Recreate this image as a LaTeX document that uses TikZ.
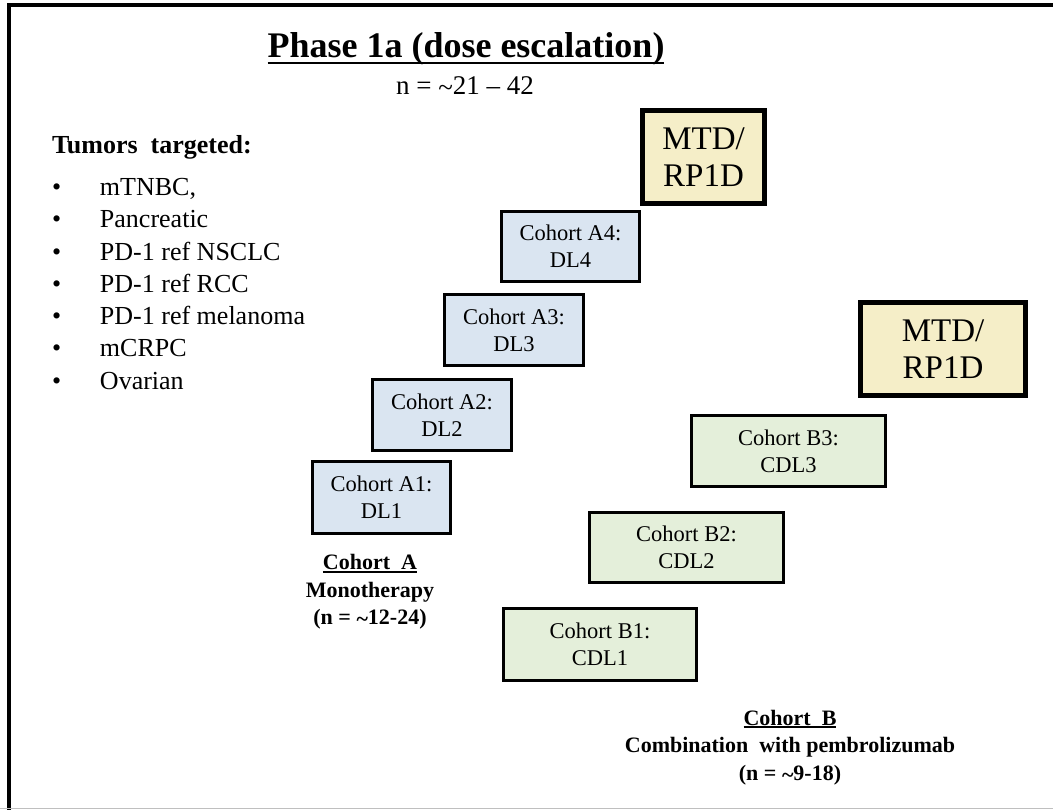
\documentclass[tikz,border=0pt]{standalone}
\usepackage{fontspec}
\setmainfont{Liberation Serif}
\definecolor{boxblue}{HTML}{DAE5F1}
\definecolor{boxgreen}{HTML}{E4EFDA}
\definecolor{boxyellow}{HTML}{F5EEC8}
\newcommand\myul[2]{\setbox0\hbox{#2}\rlap{\vrule width\wd0 height -#1 depth \dimexpr#1+1.8pt\relax}\box0}
\begin{document}
\begin{tikzpicture}[x=1pt,y=-1pt,
  every node/.style={inner sep=0pt, outer sep=0pt},
  cohortbox/.style={draw=black, line width=3pt, align=center,
     font=\fontsize{22.5}{27}\selectfont},
  bluebox/.style={cohortbox, fill=boxblue},
  greenbox/.style={cohortbox, fill=boxgreen},
  mtdbox/.style={draw=black, line width=5pt, fill=boxyellow, align=center,
     font=\fontsize{33}{37}\selectfont},
  item/.style={anchor=base west, font=\fontsize{26}{30}\selectfont},
  grouplabel/.style={align=center, font=\bfseries\fontsize{22}{27.5}\selectfont}
]
\useasboundingbox (0,0) rectangle (1053,810);
\fill[white] (0,0) rectangle (1053,810);
% frame
\draw[line width=4pt] (9,810) -- (9,5) -- (1053,5);
\draw[black!25, line width=1.5pt] (0,808.5) -- (1053,808.5);

% title
\node[anchor=base, font=\bfseries\fontsize{36}{43}\selectfont] (title) at (466,58)
  {\myul{4pt}{Phase 1a (dose escalation)}};
\node[anchor=base, font=\fontsize{27}{30}\selectfont] (ntotal) at (465,95) {n = {\raisebox{-2pt}{\textasciitilde}}21 -- 42};

% tumors list
\node[anchor=base west, font=\bfseries\fontsize{26}{30}\selectfont] (tumhead) at (52,154) {Tumors~ targeted:};
\node[item] (t1) at (52,196) {\makebox[48pt][l]{\textbullet}mTNBC,};
\node[item] (t2) at (52,228) {\makebox[48pt][l]{\textbullet}Pancreatic};
\node[item] (t3) at (52,260.5) {\makebox[48pt][l]{\textbullet}PD-1 ref NSCLC};
\node[item] (t4) at (52,292.5) {\makebox[48pt][l]{\textbullet}PD-1 ref RCC};
\node[item] (t5) at (52,325) {\makebox[48pt][l]{\textbullet}PD-1 ref melanoma};
\node[item] (t6) at (52,357) {\makebox[48pt][l]{\textbullet}mCRPC};
\node[item] (t7) at (52,389.5) {\makebox[48pt][l]{\textbullet}Ovarian};

% MTD boxes
\node[mtdbox, minimum width=122pt, minimum height=93pt] (mtda) at (703.5,157) {MTD/\\RP1D};
\node[mtdbox, minimum width=165pt, minimum height=93pt] (mtdb) at (943,349) {MTD/\\RP1D};

% cohort A boxes
\node[bluebox, minimum width=138pt, minimum height=70pt] (a4) at (570.5,246.5) {Cohort A4:\\DL4};
\node[bluebox, minimum width=139pt, minimum height=71pt] (a3) at (514,330) {Cohort A3:\\DL3};
\node[bluebox, minimum width=139pt, minimum height=71pt] (a2) at (442,415) {Cohort A2:\\DL2};
\node[bluebox, minimum width=138pt, minimum height=72pt] (a1) at (381.5,497.5) {Cohort A1:\\DL1};

% cohort B boxes
\node[greenbox, minimum width=194pt, minimum height=71pt] (b3) at (788.5,451) {Cohort B3:\\CDL3};
\node[greenbox, minimum width=194pt, minimum height=70pt] (b2) at (686.5,547.5) {Cohort B2:\\CDL2};
\node[greenbox, minimum width=193pt, minimum height=72pt] (b1) at (600,644.5) {Cohort B1:\\CDL1};

% group labels
\node[grouplabel] (labela) at (370,592)
  {\myul{1.2pt}{Cohort~ A}\\Monotherapy\\(n = {\raisebox{-2pt}{\textasciitilde}}12-24)};
\node[grouplabel] (labelb) at (790,747.5)
  {\myul{1.2pt}{Cohort~ B}\\Combination~ with pembrolizumab\\(n = {\raisebox{-2pt}{\textasciitilde}}9-18)};
\end{tikzpicture}
\end{document}
